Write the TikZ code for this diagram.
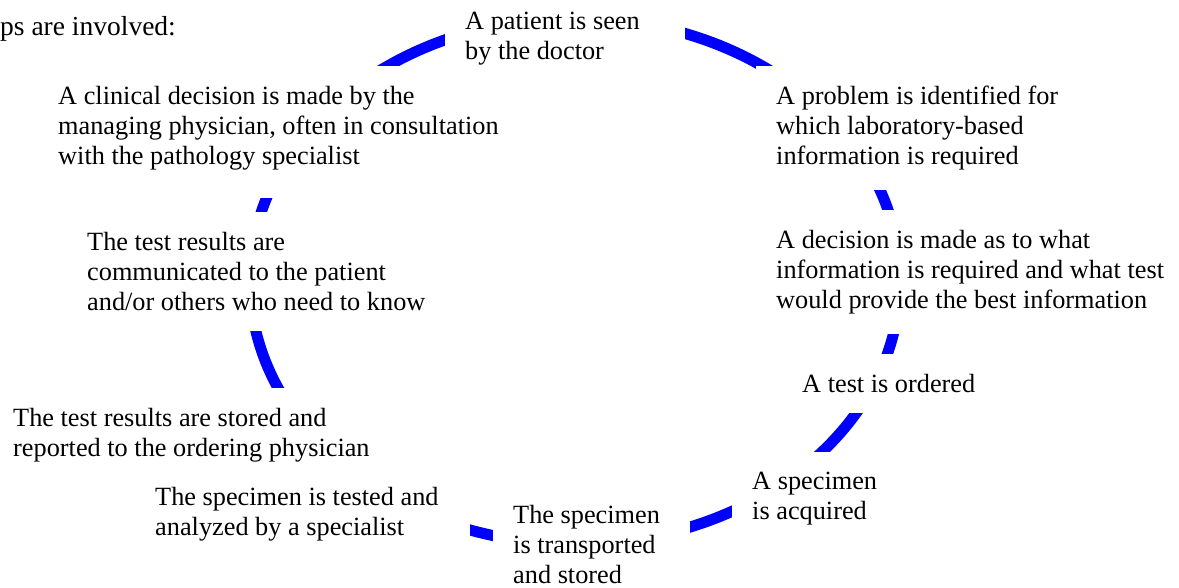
\documentclass[tikz,border=0pt]{standalone}
\usepackage{fontspec}
\setmainfont{Liberation Serif}
\begin{document}
\begin{tikzpicture}[x=1pt,y=1pt,
  stage/.style={fill=white, inner sep=20pt, anchor=north west,
    font=\fontsize{26.3}{30}\selectfont},
  plain/.style={inner sep=0pt, align=left, anchor=north west,
    font=\fontsize{27.5}{31}\selectfont},
  cycle/.style={draw=blue, line width=11pt}]
\useasboundingbox (0,0) rectangle (1179,-588);
\coordinate (c) at (575,-281);
\draw[cycle] (c) ellipse [x radius=325, y radius=263];
\node[plain] (intro) at (0,-16) {ps are involved:};
\node[stage, text width=200pt, align=flush left] (patient) at (445,8) {A patient is seen\\by the doctor};
\node[stage, align=left, text depth=14pt] (clinical) at (38,-66) {A clinical decision is made by the\\managing physician, often in consultation\\with the pathology specialist};
\node[stage, align=left] (problem) at (756,-66) {A problem is identified for\\which laboratory-based\\information is required};
\node[stage, align=left] (decision) at (756,-210) {A decision is made as to what\\information is required and what test\\would provide the best information};
\node[stage, align=left] (results) at (67,-212) {The test results are\\communicated to the patient\\and/or others who need to know};
\node[stage, align=left] (ordered) at (782,-354) {A test is ordered};
\node[stage, align=left] (stored) at (-7,-388) {The test results are stored and\\reported to the ordering physician};
\node[stage, align=left] (specimen) at (732,-452) {A specimen\\is acquired};
\node[stage, text width=295pt, align=flush left] (tested) at (135,-467) {The specimen is tested and\\analyzed by a specialist};
\node[stage, text width=157pt, align=flush left] (transported) at (493,-485) {The specimen\\is transported\\and stored};
\end{tikzpicture}
\end{document}
